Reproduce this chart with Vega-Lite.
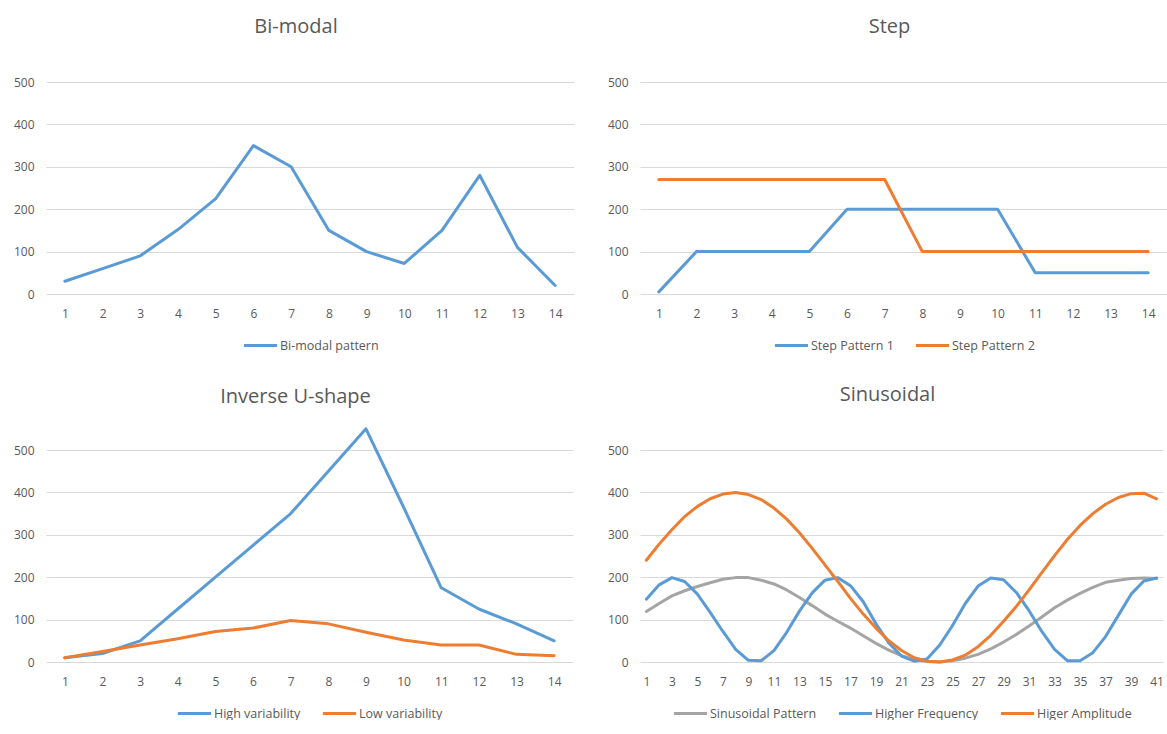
{
  "$schema": "https://vega.github.io/schema/vega-lite/v6.json",
  "background": "white",
  "padding": {"left": 13, "top": 17, "right": 0, "bottom": 0},
  "autosize": {"type": "pad"},
  "columns": 2,
  "spacing": {"row": 156, "column": 66},
  "bounds": "flush",
  "resolve": {
    "scale": {"color": "independent", "x": "independent", "y": "independent"},
    "legend": {"color": "independent"}
  },
  "config": {
    "font": "Open Sans",
    "view": {"stroke": null},
    "title": {"fontSize": 20, "fontWeight": "normal", "color": "#595959", "anchor": "middle", "dx": -14, "offset": 39},
    "axis": {"labelColor": "#595959", "labelFontSize": 12, "ticks": false, "domain": false, "title": null, "gridColor": "#D9D9D9", "gridWidth": 1},
    "axisX": {"grid": false, "labelAngle": 0, "labelPadding": 14},
    "axisY": {"grid": true, "labelPadding": 12},
    "legend": {
      "orient": "bottom", "direction": "horizontal", "title": null,
      "labelColor": "#595959", "labelFontSize": 12.5,
      "symbolType": "stroke", "symbolSize": 1100, "symbolStrokeWidth": 3,
      "columnPadding": 20, "labelOffset": 1, "offset": 8,
      "layout": {"bottom": {"anchor": "middle"}}
    },
    "line": {"strokeWidth": 3, "strokeJoin": "round", "strokeCap": "round"}
  },
  "datasets": {
    "bimodal": [
      {"t": 1, "series": "Bi-modal pattern", "v": 30},
      {"t": 2, "series": "Bi-modal pattern", "v": 60},
      {"t": 3, "series": "Bi-modal pattern", "v": 90},
      {"t": 4, "series": "Bi-modal pattern", "v": 152},
      {"t": 5, "series": "Bi-modal pattern", "v": 225},
      {"t": 6, "series": "Bi-modal pattern", "v": 350},
      {"t": 7, "series": "Bi-modal pattern", "v": 300},
      {"t": 8, "series": "Bi-modal pattern", "v": 150},
      {"t": 9, "series": "Bi-modal pattern", "v": 100},
      {"t": 10, "series": "Bi-modal pattern", "v": 72},
      {"t": 11, "series": "Bi-modal pattern", "v": 150},
      {"t": 12, "series": "Bi-modal pattern", "v": 280},
      {"t": 13, "series": "Bi-modal pattern", "v": 110},
      {"t": 14, "series": "Bi-modal pattern", "v": 20}
    ],
    "step": [
      {"t": 1, "series": "Step Pattern 1", "v": 5},
      {"t": 2, "series": "Step Pattern 1", "v": 100},
      {"t": 3, "series": "Step Pattern 1", "v": 100},
      {"t": 4, "series": "Step Pattern 1", "v": 100},
      {"t": 5, "series": "Step Pattern 1", "v": 100},
      {"t": 6, "series": "Step Pattern 1", "v": 200},
      {"t": 7, "series": "Step Pattern 1", "v": 200},
      {"t": 8, "series": "Step Pattern 1", "v": 200},
      {"t": 9, "series": "Step Pattern 1", "v": 200},
      {"t": 10, "series": "Step Pattern 1", "v": 200},
      {"t": 11, "series": "Step Pattern 1", "v": 50},
      {"t": 12, "series": "Step Pattern 1", "v": 50},
      {"t": 13, "series": "Step Pattern 1", "v": 50},
      {"t": 14, "series": "Step Pattern 1", "v": 50},
      {"t": 1, "series": "Step Pattern 2", "v": 270},
      {"t": 2, "series": "Step Pattern 2", "v": 270},
      {"t": 3, "series": "Step Pattern 2", "v": 270},
      {"t": 4, "series": "Step Pattern 2", "v": 270},
      {"t": 5, "series": "Step Pattern 2", "v": 270},
      {"t": 6, "series": "Step Pattern 2", "v": 270},
      {"t": 7, "series": "Step Pattern 2", "v": 270},
      {"t": 8, "series": "Step Pattern 2", "v": 100},
      {"t": 9, "series": "Step Pattern 2", "v": 100},
      {"t": 10, "series": "Step Pattern 2", "v": 100},
      {"t": 11, "series": "Step Pattern 2", "v": 100},
      {"t": 12, "series": "Step Pattern 2", "v": 100},
      {"t": 13, "series": "Step Pattern 2", "v": 100},
      {"t": 14, "series": "Step Pattern 2", "v": 100}
    ],
    "inverseU": [
      {"t": 1, "series": "High variability", "v": 10},
      {"t": 2, "series": "High variability", "v": 20},
      {"t": 3, "series": "High variability", "v": 50},
      {"t": 4, "series": "High variability", "v": 125},
      {"t": 5, "series": "High variability", "v": 200},
      {"t": 6, "series": "High variability", "v": 275},
      {"t": 7, "series": "High variability", "v": 350},
      {"t": 8, "series": "High variability", "v": 450},
      {"t": 9, "series": "High variability", "v": 550},
      {"t": 10, "series": "High variability", "v": 365},
      {"t": 11, "series": "High variability", "v": 175},
      {"t": 12, "series": "High variability", "v": 125},
      {"t": 13, "series": "High variability", "v": 90},
      {"t": 14, "series": "High variability", "v": 50},
      {"t": 1, "series": "Low variability", "v": 10},
      {"t": 2, "series": "Low variability", "v": 25},
      {"t": 3, "series": "Low variability", "v": 40},
      {"t": 4, "series": "Low variability", "v": 55},
      {"t": 5, "series": "Low variability", "v": 72},
      {"t": 6, "series": "Low variability", "v": 80},
      {"t": 7, "series": "Low variability", "v": 98},
      {"t": 8, "series": "Low variability", "v": 90},
      {"t": 9, "series": "Low variability", "v": 70},
      {"t": 10, "series": "Low variability", "v": 52},
      {"t": 11, "series": "Low variability", "v": 40},
      {"t": 12, "series": "Low variability", "v": 40},
      {"t": 13, "series": "Low variability", "v": 18},
      {"t": 14, "series": "Low variability", "v": 15}
    ],
    "sinus": [
      {"t": 1, "series": "Sinusoidal Pattern", "v": 119},
      {"t": 2, "series": "Sinusoidal Pattern", "v": 138},
      {"t": 3, "series": "Sinusoidal Pattern", "v": 156},
      {"t": 4, "series": "Sinusoidal Pattern", "v": 168},
      {"t": 5, "series": "Sinusoidal Pattern", "v": 178},
      {"t": 6, "series": "Sinusoidal Pattern", "v": 187},
      {"t": 7, "series": "Sinusoidal Pattern", "v": 195},
      {"t": 8, "series": "Sinusoidal Pattern", "v": 199},
      {"t": 9, "series": "Sinusoidal Pattern", "v": 199},
      {"t": 10, "series": "Sinusoidal Pattern", "v": 193},
      {"t": 11, "series": "Sinusoidal Pattern", "v": 184},
      {"t": 12, "series": "Sinusoidal Pattern", "v": 170},
      {"t": 13, "series": "Sinusoidal Pattern", "v": 152},
      {"t": 14, "series": "Sinusoidal Pattern", "v": 133},
      {"t": 15, "series": "Sinusoidal Pattern", "v": 113},
      {"t": 16, "series": "Sinusoidal Pattern", "v": 96},
      {"t": 17, "series": "Sinusoidal Pattern", "v": 80},
      {"t": 18, "series": "Sinusoidal Pattern", "v": 62},
      {"t": 19, "series": "Sinusoidal Pattern", "v": 44},
      {"t": 20, "series": "Sinusoidal Pattern", "v": 28},
      {"t": 21, "series": "Sinusoidal Pattern", "v": 15},
      {"t": 22, "series": "Sinusoidal Pattern", "v": 6},
      {"t": 23, "series": "Sinusoidal Pattern", "v": 1},
      {"t": 24, "series": "Sinusoidal Pattern", "v": 0},
      {"t": 25, "series": "Sinusoidal Pattern", "v": 3},
      {"t": 26, "series": "Sinusoidal Pattern", "v": 9},
      {"t": 27, "series": "Sinusoidal Pattern", "v": 18},
      {"t": 28, "series": "Sinusoidal Pattern", "v": 31},
      {"t": 29, "series": "Sinusoidal Pattern", "v": 47},
      {"t": 30, "series": "Sinusoidal Pattern", "v": 65},
      {"t": 31, "series": "Sinusoidal Pattern", "v": 85},
      {"t": 32, "series": "Sinusoidal Pattern", "v": 106},
      {"t": 33, "series": "Sinusoidal Pattern", "v": 128},
      {"t": 34, "series": "Sinusoidal Pattern", "v": 146},
      {"t": 35, "series": "Sinusoidal Pattern", "v": 162},
      {"t": 36, "series": "Sinusoidal Pattern", "v": 176},
      {"t": 37, "series": "Sinusoidal Pattern", "v": 188},
      {"t": 38, "series": "Sinusoidal Pattern", "v": 193},
      {"t": 39, "series": "Sinusoidal Pattern", "v": 197},
      {"t": 40, "series": "Sinusoidal Pattern", "v": 198},
      {"t": 41, "series": "Sinusoidal Pattern", "v": 197},
      {"t": 1, "series": "Higher Frequency", "v": 148},
      {"t": 2, "series": "Higher Frequency", "v": 182},
      {"t": 3, "series": "Higher Frequency", "v": 199},
      {"t": 4, "series": "Higher Frequency", "v": 190},
      {"t": 5, "series": "Higher Frequency", "v": 160},
      {"t": 6, "series": "Higher Frequency", "v": 117},
      {"t": 7, "series": "Higher Frequency", "v": 72},
      {"t": 8, "series": "Higher Frequency", "v": 30},
      {"t": 9, "series": "Higher Frequency", "v": 4},
      {"t": 10, "series": "Higher Frequency", "v": 3},
      {"t": 11, "series": "Higher Frequency", "v": 27},
      {"t": 12, "series": "Higher Frequency", "v": 70},
      {"t": 13, "series": "Higher Frequency", "v": 120},
      {"t": 14, "series": "Higher Frequency", "v": 163},
      {"t": 15, "series": "Higher Frequency", "v": 193},
      {"t": 16, "series": "Higher Frequency", "v": 199},
      {"t": 17, "series": "Higher Frequency", "v": 180},
      {"t": 18, "series": "Higher Frequency", "v": 142},
      {"t": 19, "series": "Higher Frequency", "v": 90},
      {"t": 20, "series": "Higher Frequency", "v": 45},
      {"t": 21, "series": "Higher Frequency", "v": 14},
      {"t": 22, "series": "Higher Frequency", "v": 2},
      {"t": 23, "series": "Higher Frequency", "v": 7},
      {"t": 24, "series": "Higher Frequency", "v": 40},
      {"t": 25, "series": "Higher Frequency", "v": 86},
      {"t": 26, "series": "Higher Frequency", "v": 138},
      {"t": 27, "series": "Higher Frequency", "v": 179},
      {"t": 28, "series": "Higher Frequency", "v": 198},
      {"t": 29, "series": "Higher Frequency", "v": 194},
      {"t": 30, "series": "Higher Frequency", "v": 164},
      {"t": 31, "series": "Higher Frequency", "v": 121},
      {"t": 32, "series": "Higher Frequency", "v": 72},
      {"t": 33, "series": "Higher Frequency", "v": 30},
      {"t": 34, "series": "Higher Frequency", "v": 3},
      {"t": 35, "series": "Higher Frequency", "v": 3},
      {"t": 36, "series": "Higher Frequency", "v": 22},
      {"t": 37, "series": "Higher Frequency", "v": 60},
      {"t": 38, "series": "Higher Frequency", "v": 110},
      {"t": 39, "series": "Higher Frequency", "v": 160},
      {"t": 40, "series": "Higher Frequency", "v": 191},
      {"t": 41, "series": "Higher Frequency", "v": 198},
      {"t": 1, "series": "Higer Amplitude", "v": 240},
      {"t": 2, "series": "Higer Amplitude", "v": 278},
      {"t": 3, "series": "Higer Amplitude", "v": 312},
      {"t": 4, "series": "Higer Amplitude", "v": 343},
      {"t": 5, "series": "Higer Amplitude", "v": 367},
      {"t": 6, "series": "Higer Amplitude", "v": 385},
      {"t": 7, "series": "Higer Amplitude", "v": 396},
      {"t": 8, "series": "Higer Amplitude", "v": 400},
      {"t": 9, "series": "Higer Amplitude", "v": 395},
      {"t": 10, "series": "Higer Amplitude", "v": 383},
      {"t": 11, "series": "Higer Amplitude", "v": 363},
      {"t": 12, "series": "Higer Amplitude", "v": 337},
      {"t": 13, "series": "Higer Amplitude", "v": 305},
      {"t": 14, "series": "Higer Amplitude", "v": 268},
      {"t": 15, "series": "Higer Amplitude", "v": 229},
      {"t": 16, "series": "Higer Amplitude", "v": 190},
      {"t": 17, "series": "Higer Amplitude", "v": 150},
      {"t": 18, "series": "Higer Amplitude", "v": 113},
      {"t": 19, "series": "Higer Amplitude", "v": 80},
      {"t": 20, "series": "Higer Amplitude", "v": 50},
      {"t": 21, "series": "Higer Amplitude", "v": 27},
      {"t": 22, "series": "Higer Amplitude", "v": 10},
      {"t": 23, "series": "Higer Amplitude", "v": 2},
      {"t": 24, "series": "Higer Amplitude", "v": 0},
      {"t": 25, "series": "Higer Amplitude", "v": 5},
      {"t": 26, "series": "Higer Amplitude", "v": 16},
      {"t": 27, "series": "Higer Amplitude", "v": 36},
      {"t": 28, "series": "Higer Amplitude", "v": 63},
      {"t": 29, "series": "Higer Amplitude", "v": 96},
      {"t": 30, "series": "Higer Amplitude", "v": 131},
      {"t": 31, "series": "Higer Amplitude", "v": 170},
      {"t": 32, "series": "Higer Amplitude", "v": 211},
      {"t": 33, "series": "Higer Amplitude", "v": 251},
      {"t": 34, "series": "Higer Amplitude", "v": 289},
      {"t": 35, "series": "Higer Amplitude", "v": 322},
      {"t": 36, "series": "Higer Amplitude", "v": 350},
      {"t": 37, "series": "Higer Amplitude", "v": 372},
      {"t": 38, "series": "Higer Amplitude", "v": 388},
      {"t": 39, "series": "Higer Amplitude", "v": 397},
      {"t": 40, "series": "Higer Amplitude", "v": 398},
      {"t": 41, "series": "Higer Amplitude", "v": 385}
    ]
  },
  "concat": [
    {
      "title": {"text": "Bi-modal"},
      "width": 528,
      "height": 212,
      "data": {"name": "bimodal"},
      "mark": {"type": "line"},
      "encoding": {
        "x": {"field": "t", "type": "ordinal"},
        "y": {"field": "v", "type": "quantitative", "scale": {"domain": [0, 500], "nice": false}, "axis": {"values": [0, 100, 200, 300, 400, 500]}},
        "color": {"field": "series", "type": "nominal", "scale": {"domain": ["Bi-modal pattern"], "range": ["#5B9BD5"]}}
      }
    },
    {
      "title": {"text": "Step"},
      "width": 527,
      "height": 212,
      "data": {"name": "step"},
      "mark": {"type": "line"},
      "encoding": {
        "x": {"field": "t", "type": "ordinal"},
        "y": {"field": "v", "type": "quantitative", "scale": {"domain": [0, 500], "nice": false}, "axis": {"values": [0, 100, 200, 300, 400, 500]}},
        "color": {"field": "series", "type": "nominal", "scale": {"domain": ["Step Pattern 1", "Step Pattern 2"], "range": ["#5B9BD5", "#ED7D31"]}}
      }
    },
    {
      "title": {"text": "Inverse U-shape", "offset": 20},
      "width": 527,
      "height": 212,
      "data": {"name": "inverseU"},
      "mark": {"type": "line", "clip": false},
      "encoding": {
        "x": {"field": "t", "type": "ordinal"},
        "y": {"field": "v", "type": "quantitative", "scale": {"domain": [0, 500], "nice": false}, "axis": {"values": [0, 100, 200, 300, 400, 500]}},
        "color": {"field": "series", "type": "nominal", "scale": {"domain": ["High variability", "Low variability"], "range": ["#5B9BD5", "#ED7D31"]}}
      }
    },
    {
      "title": {"text": "Sinusoidal"},
      "width": 523,
      "height": 212,
      "data": {"name": "sinus"},
      "mark": {"type": "line"},
      "encoding": {
        "x": {"field": "t", "type": "ordinal", "axis": {"values": [1, 3, 5, 7, 9, 11, 13, 15, 17, 19, 21, 23, 25, 27, 29, 31, 33, 35, 37, 39, 41]}},
        "y": {"field": "v", "type": "quantitative", "scale": {"domain": [0, 500], "nice": false}, "axis": {"values": [0, 100, 200, 300, 400, 500]}},
        "color": {"field": "series", "type": "nominal", "scale": {"domain": ["Sinusoidal Pattern", "Higher Frequency", "Higer Amplitude"], "range": ["#A5A5A5", "#5B9BD5", "#ED7D31"]}}
      }
    }
  ]
}
